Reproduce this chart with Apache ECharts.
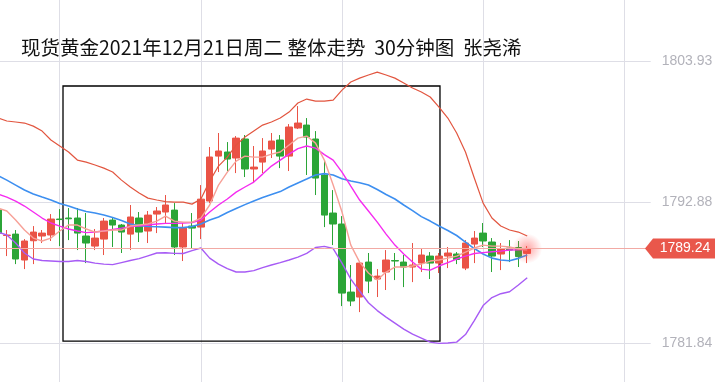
<!DOCTYPE html>
<html><head><meta charset="utf-8">
<script src="https://cdn.jsdelivr.net/npm/echarts@6/dist/echarts.min.js"></script>
<style>html,body{margin:0;padding:0;background:#fff}#c{width:715px;height:382px}</style>
</head><body><div id="c"></div>
<script>
// ---- data ----
const titleText = '现货黄金2021年12月21日周二 整体走势  30分钟图  张尧浠';
const opens  = [1792.25,1790.26,1790.37,1788.34,1789.85,1790.22,1790.30,1791.55,1791.63,1791.63,1790.22,1789.43,1789.98,1791.47,1791.08,1790.37,1791.63,1790.61,1791.94,1792.10,1792.25,1789.36,1791.00,1790.92,1792.96,1796.48,1796.80,1796.33,1797.82,1795.47,1796.01,1797.03,1797.74,1796.48,1798.68,1798.91,1797.82,1795.00,1792.02,1791.16,1785.83,1785.44,1788.18,1786.85,1787.40,1788.30,1788.18,1787.79,1788.10,1788.65,1788.10,1788.65,1788.81,1787.71,1789.59,1790.45,1789.75,1788.81,1789.28,1789.32,1788.86];
const closes = [1790.45,1790.30,1788.42,1789.83,1790.53,1790.45,1791.55,1791.51,1791.57,1790.45,1789.67,1790.06,1791.39,1791.08,1790.53,1791.71,1790.53,1791.86,1792.18,1792.65,1789.36,1790.84,1790.84,1793.11,1796.41,1796.88,1796.25,1797.89,1795.47,1795.62,1796.88,1797.66,1796.48,1798.76,1799.07,1797.97,1794.76,1791.86,1791.16,1785.75,1785.13,1788.10,1786.69,1787.08,1788.34,1788.26,1787.79,1787.95,1788.73,1788.10,1788.65,1788.89,1788.38,1789.67,1790.06,1789.83,1788.65,1789.20,1789.12,1788.61,1789.24];
const lows   = [1790.22,1788.65,1788.02,1787.63,1788.02,1789.67,1789.83,1789.43,1789.90,1789.12,1788.10,1789.12,1788.73,1789.36,1788.89,1789.12,1789.75,1789.67,1790.45,1791.24,1788.73,1788.26,1789.28,1789.98,1792.80,1795.23,1795.31,1795.15,1794.84,1794.37,1795.15,1796.33,1795.54,1795.31,1798.60,1795.00,1793.43,1790.92,1789.51,1784.73,1784.73,1784.26,1785.75,1785.44,1785.99,1786.77,1786.22,1786.61,1787.40,1786.85,1787.32,1787.71,1788.02,1787.55,1788.10,1789.36,1787.40,1787.55,1788.18,1787.79,1788.10];
const highs  = [1792.41,1790.69,1790.69,1789.98,1791.00,1790.69,1791.94,1792.33,1792.41,1792.41,1792.02,1790.77,1791.63,1791.71,1791.16,1792.65,1792.10,1792.18,1792.49,1793.43,1792.80,1791.24,1792.02,1794.21,1797.19,1798.29,1797.58,1798.05,1798.13,1797.27,1797.89,1798.29,1798.13,1798.99,1800.40,1799.46,1798.44,1796.17,1793.82,1791.78,1787.95,1788.26,1788.89,1787.63,1789.12,1788.89,1788.73,1789.67,1789.20,1788.96,1788.89,1789.36,1788.96,1789.90,1790.61,1791.24,1790.06,1789.67,1789.90,1789.83,1789.43];
const bollUpper = [1799.46,1799.23,1799.15,1799.07,1798.83,1798.44,1797.74,1797.27,1796.80,1796.17,1796.01,1795.78,1795.54,1795.23,1794.60,1794.06,1793.59,1793.19,1793.04,1792.92,1792.88,1792.88,1792.72,1793.12,1794.52,1795.70,1796.40,1797.35,1797.97,1798.44,1798.91,1799.15,1799.46,1799.93,1800.64,1800.95,1800.79,1800.79,1800.87,1801.65,1802.28,1802.59,1802.83,1803.06,1802.83,1802.59,1802.20,1801.81,1801.50,1801.11,1800.32,1799.46,1798.29,1796.80,1794.76,1792.80,1791.63,1791.00,1790.69,1790.53,1790.22];
const bollMid = [1794.96,1794.60,1794.21,1793.82,1793.51,1793.27,1793.04,1792.76,1792.57,1792.33,1792.14,1792.02,1791.86,1791.67,1791.43,1791.16,1791.04,1790.96,1790.95,1790.92,1790.88,1790.88,1790.96,1791.16,1791.47,1791.71,1792.06,1792.37,1792.68,1792.96,1793.23,1793.47,1793.70,1794.06,1794.37,1794.68,1795.00,1795.11,1795.00,1794.71,1794.53,1794.39,1794.21,1793.86,1793.47,1793.12,1792.65,1792.21,1791.74,1791.39,1791.00,1790.65,1790.26,1789.75,1789.24,1788.81,1788.49,1788.34,1788.28,1788.47,1788.73];
const bollLower = [1790.53,1790.30,1789.67,1788.89,1788.42,1788.30,1788.26,1788.22,1788.22,1788.30,1788.22,1788.10,1788.02,1787.98,1788.14,1788.30,1788.45,1788.67,1788.89,1788.91,1788.86,1788.85,1789.07,1789.28,1788.49,1788.02,1787.67,1787.40,1787.40,1787.51,1787.75,1787.95,1788.14,1788.34,1788.57,1788.86,1789.32,1789.41,1789.24,1788.10,1786.85,1785.91,1784.99,1784.38,1783.87,1783.40,1782.93,1782.54,1782.23,1781.91,1781.81,1781.84,1781.91,1782.50,1783.60,1784.77,1785.40,1785.70,1785.85,1786.38,1786.95];
const ma10 = [1793.51,1793.27,1792.96,1792.57,1792.10,1791.63,1791.24,1791.00,1790.77,1790.61,1790.49,1790.53,1790.61,1790.73,1790.84,1790.96,1791.00,1791.08,1791.16,1791.21,1791.21,1791.24,1791.27,1791.47,1792.10,1792.65,1793.12,1793.66,1794.06,1794.45,1795.07,1795.70,1796.17,1796.64,1797.07,1797.27,1797.11,1796.60,1796.17,1795.23,1794.13,1793.04,1792.18,1791.31,1790.37,1789.51,1788.81,1788.18,1787.63,1787.55,1787.87,1788.14,1788.42,1788.65,1788.85,1788.92,1788.99,1789.04,1789.12,1789.14,1789.18];
const ma5 = [1792.41,1792.18,1791.47,1790.69,1790.06,1789.83,1790.06,1790.61,1791.08,1791.08,1790.77,1790.53,1790.61,1790.69,1790.69,1791.00,1791.08,1791.16,1791.39,1791.78,1791.39,1791.31,1791.31,1791.63,1792.65,1794.21,1795.23,1796.09,1796.48,1796.40,1796.40,1796.64,1796.80,1797.35,1797.89,1798.05,1797.50,1796.17,1794.21,1792.10,1789.51,1788.18,1787.32,1786.77,1787.40,1787.79,1787.79,1787.87,1788.02,1788.26,1788.34,1788.49,1788.65,1788.96,1789.28,1789.51,1789.43,1789.43,1789.36,1789.20,1789.12];
const lastPrice = 1789.24;
const yTickLabels = ['1781.84', '1792.88', '1803.93'];
const boxCorners = [[7.37, 1801.97], [50.11, 1781.99]];   // annotation rectangle (bar index, price)
const slotCount = 75;  // bars + empty slots to the right
const categories = Array.from({length: slotCount}, (_, i) => 'K' + i);

// ---- styles / layout ----
const UP = '#ea5346', DOWN = '#2ba537';
const GRID_LINE = '#dedee6';
const candleData = opens.map((o, i) => [o, closes[i], lows[i], highs[i]]);
const lastIdx = opens.length - 1;

const chart = echarts.init(document.getElementById('c'), null, {renderer: 'canvas'});
const lineS = (name, data, color, width) => ({
  name, type: 'line', data, symbol: 'none', smooth: false, silent: true,
  lineStyle: {color, width}, z: 3
});

chart.setOption({
  animation: false,
  backgroundColor: '#ffffff',
  title: {
    text: titleText, left: 21, top: 38, padding: 0,
    textStyle: {fontSize: 19.5, fontWeight: 'normal', color: '#111111', fontFamily: '"Noto Sans CJK SC", sans-serif'}
  },
  grid: {left: -2, top: -80, width: 652.7, height: 564, containLabel: false, outerBoundsMode: 'none'},
  xAxis: [{
    type: 'category', data: categories, boundaryGap: false,
    axisLine: {show: false}, axisTick: {show: false}, axisLabel: {show: false},
    splitLine: {show: true, interval: (i) => (i - 7) % 16 === 0, lineStyle: {color: GRID_LINE, width: 1}}
  }, {
    type: 'value', min: 0, max: slotCount - 1, show: false
  }],
  yAxis: {
    type: 'value', position: 'right', scale: true,
    min: 1770.795, max: 1814.975, interval: 11.045,
    axisLine: {show: false}, axisTick: {show: false},
    splitLine: {show: true, lineStyle: {color: GRID_LINE, width: 1}},
    axisLabel: {
      margin: 11, color: '#b2b2ba', fontSize: 14, fontFamily: '"Liberation Sans", Arial, sans-serif',
      formatter: (v) => {
        let best = '';
        yTickLabels.forEach(t => { if (Math.abs(parseFloat(t) - v) < 0.02) best = t; });
        return best;
      }
    }
  },
  series: [
    {
      name: 'K', type: 'candlestick', data: candleData, barWidth: 7, z: 2,
      itemStyle: {color: UP, color0: DOWN, borderColor: UP, borderColor0: DOWN, borderWidth: 1},
      markLine: {
        silent: true, symbol: ['none', 'none'], label: {show: false},
        lineStyle: {color: '#f2aaa4', type: 'solid', width: 1},
        data: [{yAxis: lastPrice}]
      }
    },
    lineS('UP', bollUpper, '#e2553f', 1.2),
    lineS('MID', bollMid, '#3d8ff0', 1.6),
    lineS('DN', bollLower, '#a75bf5', 1.4),
    lineS('MA10', ma10, '#f52cf0', 1.4),
    lineS('MA5', ma5, '#f7a097', 1.4),
    {
      name: 'glow', type: 'scatter', silent: true, z: 4,
      data: [[lastIdx, lastPrice]], symbolSize: 30,
      itemStyle: {color: {type: 'radial', x: 0.5, y: 0.5, r: 0.5, colorStops: [
        {offset: 0, color: 'rgba(255,70,70,0.6)'}, {offset: 1, color: 'rgba(255,70,70,0)'}]}},
      markPoint: {
        silent: true,
        symbol: 'path://M0,10 L8,0 L70,0 L70,20 L8,20 Z',
        symbolSize: [70, 20], symbolKeepAspect: false, symbolOffset: [29.3, 0],
        itemStyle: {color: '#e9574b'},
        label: {show: true, position: 'inside', offset: [5, 0], color: '#ffffff', fontSize: 14,
                fontFamily: '"Liberation Sans", Arial, sans-serif', formatter: () => lastPrice.toFixed(2)},
        data: [{coord: [slotCount - 1, lastPrice]}]
      }
    },
    {
      name: 'box', type: 'line', xAxisIndex: 1, data: [], silent: true, z: 5,
      markArea: {
        silent: true,
        itemStyle: {color: 'rgba(0,0,0,0)', borderColor: '#000000', borderWidth: 1.3},
        data: [[{coord: boxCorners[0]}, {coord: boxCorners[1]}]]
      }
    }
  ]
});
</script>
</body></html>
